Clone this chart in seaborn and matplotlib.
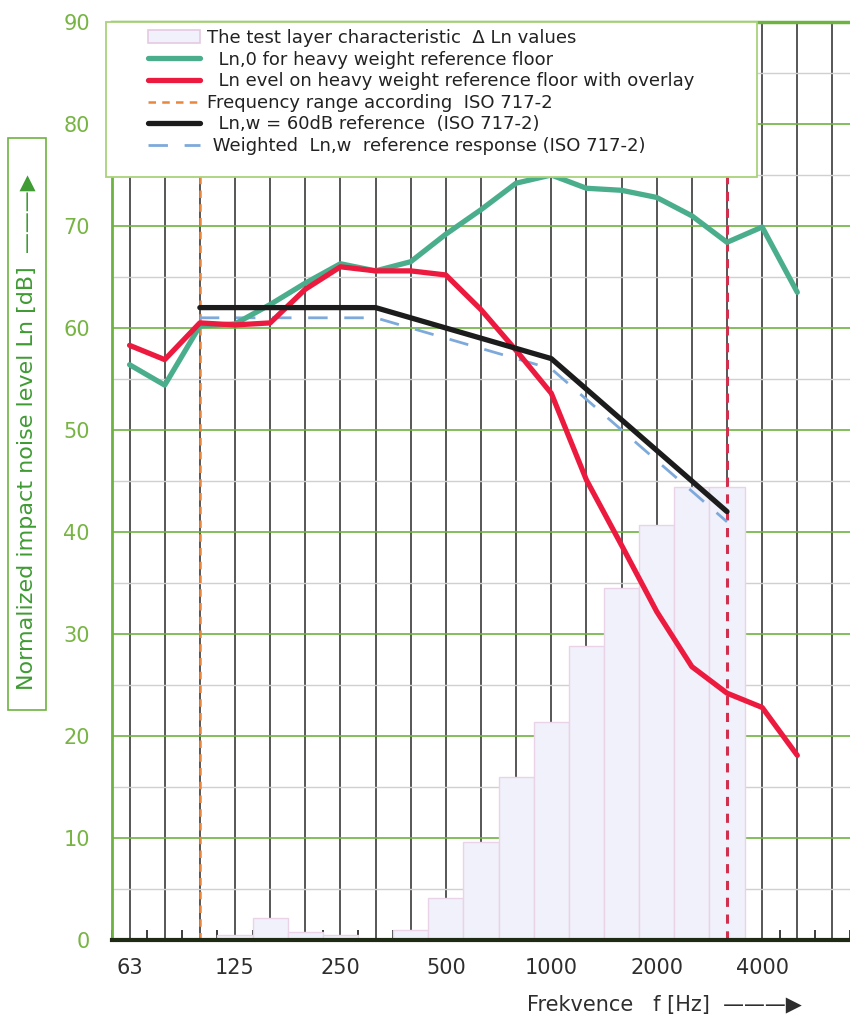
import matplotlib
matplotlib.use("Agg")
import matplotlib.pyplot as plt
import seaborn as sns
import pandas as pd
from matplotlib.patches import Rectangle, Patch
from matplotlib.lines import Line2D

# ---------------- data ----------------
bands = ["63", "80", "100", "125", "160", "200", "250", "315", "400", "500",
         "630", "800", "1000", "1250", "1600", "2000", "2500", "3150", "4000", "5000"]
grid_bands = bands + ["6300"]
tick_labels = ["63", "125", "250", "500", "1000", "2000", "4000"]

delta_ln = [0, 0, 0, 0.5, 2.2, 0.8, 0.5, 0, 1.0, 4.1,
            9.6, 16.0, 21.4, 28.8, 34.5, 40.7, 44.4, 44.4, 0, 0]
ln0 = [56.4, 54.4, 60.2, 60.4, 62.3, 64.4, 66.3, 65.6, 66.5, 69.2,
       71.6, 74.2, 75.0, 73.7, 73.5, 72.8, 71.0, 68.4, 69.9, 63.5]
ln_overlay = [58.3, 56.9, 60.5, 60.3, 60.5, 63.8, 66.0, 65.6, 65.6, 65.2,
              61.8, 57.8, 53.6, 45.1, 38.7, 32.2, 26.8, 24.2, 22.8, 18.1]
ref_bands = ["100", "125", "160", "200", "250", "315", "400", "500",
             "630", "800", "1000", "1250", "1600", "2000", "2500", "3150"]
ref_lnw60 = [62, 62, 62, 62, 62, 62, 61, 60, 59, 58, 57, 54, 51, 48, 45, 42]
ref_weighted = [61, 61, 61, 61, 61, 61, 60, 59, 58, 57, 56, 53, 50, 47, 44, 41]
iso_range = ["100", "3150"]

legend_labels = [
    "The test layer characteristic  \u0394 Ln values",
    "  Ln,0 for heavy weight reference floor",
    "  Ln evel on heavy weight reference floor with overlay",
    "Frequency range according  ISO 717-2",
    "  Ln,w = 60dB reference  (ISO 717-2)",
    " Weighted  Ln,w  reference response (ISO 717-2)",
]

# ---------------- style ----------------
sns.set_theme(style="white")
plt.rcParams["font.family"] = ["DejaVu Sans"]

C_GREEN = "#4aae8c"
C_RED = "#ec1a3e"
C_BLACK = "#1c1c1c"
C_BLUE = "#7eaadb"
C_ORANGE = "#e8863e"
C_REDDASH = "#d0304e"
C_BAR = "#f1f1fb"
C_BAREDGE = "#ead3e6"
C_AXGREEN = "#6db33f"
C_TXTGREEN = "#3f9b33"
C_TICKGREEN = "#77b443"

pos = {b: i for i, b in enumerate(grid_bands)}
x_all = [pos[b] for b in bands]
x_ref = [pos[b] for b in ref_bands]

W, H = 850, 1018
fig = plt.figure(figsize=(W / 100, H / 100), dpi=100)
ax = fig.add_axes([112 / W, 78 / H, 738 / W, 918 / H])

# bars (delta Ln)
ax.bar(x_all, delta_ln, width=1.0, color=C_BAR, edgecolor=C_BAREDGE,
       linewidth=1.0, zorder=2)

# ISO frequency range markers
ax.axvline(pos[iso_range[0]], color=C_ORANGE, lw=1.8, ls=(0, (3, 2.5)), zorder=4)
ax.axvline(pos[iso_range[1]], color=C_REDDASH, lw=2.2, ls=(0, (3, 2.5)), zorder=4)

# curves
sns.lineplot(x=x_ref, y=ref_weighted, color=C_BLUE, linewidth=2.0,
             linestyle=(0, (7, 6)), ax=ax, zorder=5)
sns.lineplot(x=x_all, y=ln0, color=C_GREEN, linewidth=3.8, ax=ax, zorder=6)
sns.lineplot(x=x_all, y=ln_overlay, color=C_RED, linewidth=3.8, ax=ax, zorder=7)
sns.lineplot(x=x_ref, y=ref_lnw60, color=C_BLACK, linewidth=3.8, ax=ax, zorder=8)

# axes / grid
ax.set_xlim(-0.48, 20.2)
ax.set_ylim(0, 90)
ax.set_axisbelow(True)
ax.set_xticks(range(len(grid_bands)))
ax.set_xticklabels([b if b in tick_labels else "" for b in grid_bands])
ax.set_xticks([i + 0.5 for i in range(-1, len(grid_bands))], minor=True)
ax.set_yticks(range(0, 91, 10))
ax.set_yticks(range(5, 90, 10), minor=True)
ax.grid(which="major", axis="x", color="#3a3a3a", lw=1.2)
ax.grid(which="major", axis="y", color=C_AXGREEN, lw=1.2)
ax.grid(which="minor", axis="y", color="#d0d0d0", lw=1.0)
ax.grid(which="minor", axis="x", visible=False)
ax.tick_params(axis="x", which="major", length=0, pad=13, labelsize=15,
               labelcolor="#2e2e2e")
ax.tick_params(axis="x", which="minor", direction="in", length=7, width=1.3,
               color="#2e2e2e", bottom=True)
ax.tick_params(axis="y", which="both", length=0, pad=16, labelsize=15,
               labelcolor=C_TICKGREEN)
ax.set_xlabel("")
ax.set_ylabel("")

for side, sp in ax.spines.items():
    sp.set_visible(True)
ax.spines["right"].set_visible(False)
ax.spines["left"].set_color(C_AXGREEN)
ax.spines["left"].set_linewidth(2.0)
ax.spines["top"].set_color(C_AXGREEN)
ax.spines["top"].set_linewidth(2.5)
ax.spines["bottom"].set_color("#1f2a14")
ax.spines["bottom"].set_linewidth(3.0)
ax.spines["bottom"].set_zorder(9)

# legend box
ax.add_patch(Rectangle((-6 / 738, (940 - 177) / 918), (757 - 106) / 738, 155 / 918,
                       transform=ax.transAxes, facecolor="white", edgecolor="#a8d27a",
                       lw=1.3, zorder=20, clip_on=False))
handles = [
    Patch(facecolor=C_BAR, edgecolor="#e6c9e2", lw=1.2),
    Line2D([], [], color=C_GREEN, lw=3.8),
    Line2D([], [], color=C_RED, lw=3.8),
    Line2D([], [], color=C_ORANGE, lw=1.8, ls=(0, (3, 2.5))),
    Line2D([], [], color=C_BLACK, lw=3.8),
    Line2D([], [], color=C_BLUE, lw=2.0, ls=(0, (7, 6))),
]
leg = ax.legend(handles, legend_labels, loc="upper left",
                bbox_to_anchor=((148 - 112) / 738, (940 - 29) / 918),
                frameon=False, fontsize=13, borderpad=0, borderaxespad=0,
                handlelength=2.9, handletextpad=0.35, labelspacing=0.2)
leg.set_zorder(21)
for t in leg.get_texts():
    t.set_color("#222222")

# y label in a box
fig.add_artist(Rectangle((8 / W, 1 - 710 / H), 38 / W, 572 / H,
                         transform=fig.transFigure, facecolor="white",
                         edgecolor=C_AXGREEN, lw=1.2))
fig.text(27 / W, 1 - 690 / H, "Normalized impact noise level Ln [dB]",
         rotation=90, rotation_mode="anchor", ha="left", va="center",
         fontsize=16, color=C_TXTGREEN)
fig.text(27 / W, 1 - 252 / H, "\u2014\u2014\u2014\u25B6",
         rotation=90, rotation_mode="anchor", ha="left", va="center",
         fontsize=15, color=C_TXTGREEN)

# x label
fig.text(527 / W, 1 - 1005 / H, "Frekvence   f [Hz]  \u2014\u2014\u2014\u25B6",
         ha="left", va="center", fontsize=15, color="#2e2e2e")

fig.savefig("out.png", dpi=100)
